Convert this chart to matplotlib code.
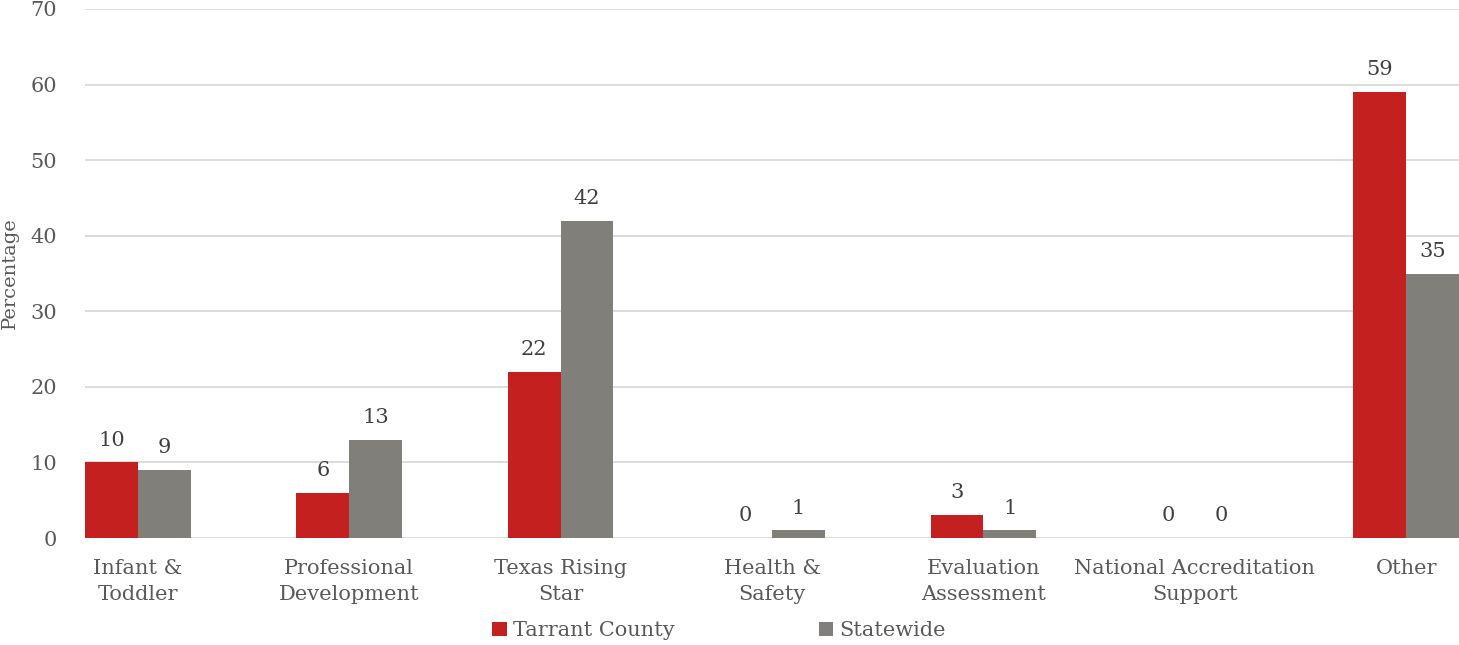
import numpy as np
import matplotlib
matplotlib.use("Agg")
import matplotlib.pyplot as plt

categories = ["Infant &\nToddler", "Professional\nDevelopment", "Texas Rising\nStar",
              "Health &\nSafety", "Evaluation\nAssessment", "National Accreditation\nSupport", "Other"]
tarrant = [10, 6, 22, 0, 3, 0, 59]
statewide = [9, 13, 42, 1, 1, 0, 35]
series_names = ["Tarrant County", "Statewide"]

RED = "#C3201F"
GRAY = "#807F7A"
TXT = "#595959"
LBL = "#404040"

plt.rcParams["font.family"] = ["DejaVu Serif"]

fig = plt.figure(figsize=(14.59, 6.45), dpi=100)
ax = fig.add_axes([85 / 1459, (645 - 538) / 645, 1 - 85 / 1459, (538 - 9) / 645])

x = np.arange(len(categories))
w = 0.25
b1 = ax.bar(x - w / 2, tarrant, w, color=RED, label=series_names[0], zorder=3)
b2 = ax.bar(x + w / 2, statewide, w, color=GRAY, label=series_names[1], zorder=3)

for bars in (b1, b2):
    for r in bars:
        h = r.get_height()
        ax.text(r.get_x() + r.get_width() / 2, h + 1.7, f"{h:g}",
                ha="center", va="bottom", fontsize=15, color=LBL)

ax.set_xlim(-0.25, 6.25)
ax.set_ylim(0, 70)
ax.set_yticks(range(0, 71, 10))
ax.yaxis.grid(True, color="#D9D9D9", linewidth=1.3, zorder=0)
for s in ax.spines.values():
    s.set_visible(False)
ax.tick_params(axis="both", length=0, labelcolor=TXT, labelsize=15)
ax.tick_params(axis="y", pad=20)
ax.tick_params(axis="x", pad=15)
ax.set_xticks(x)
ax.set_xticklabels(categories, linespacing=1.5)
ax.set_ylabel("Percentage", color=TXT, fontsize=14, labelpad=8)

fig.legend(loc="lower center", bbox_to_anchor=(0.493, -0.022), ncol=2, frameon=False,
           fontsize=15, labelcolor=TXT, handlelength=0.7, handleheight=0.7,
           handletextpad=0.3, columnspacing=6.9)

fig.savefig("out.png", dpi=100)
